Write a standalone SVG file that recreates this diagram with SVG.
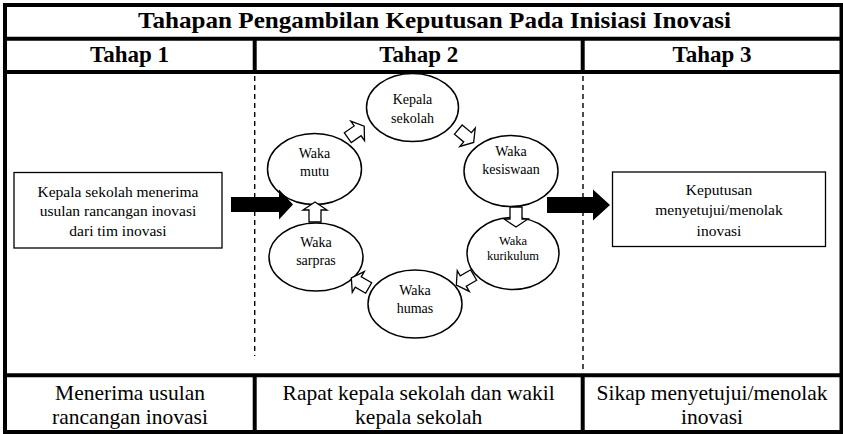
<svg xmlns="http://www.w3.org/2000/svg" width="843" height="434" viewBox="0 0 843 434">
  <style>
    .frame { fill: none; stroke: #000; stroke-width: 4; }
    .rule { stroke: #000; stroke-width: 4; }
    .dash { stroke: #000; stroke-width: 1.4; stroke-dasharray: 5 4; }
    .box { fill: #fff; stroke: #000; stroke-width: 1.3; }
    .oval { fill: #fff; stroke: #000; stroke-width: 1.5; }
    .hollow { fill: #fff; stroke: #000; stroke-width: 1.3; stroke-linejoin: miter; }
    .solid { fill: #000; }
    text { font-family: "Liberation Serif", "Times New Roman", serif; fill: #000; text-anchor: middle; }
    .title { font-size: 24px; font-weight: bold; }
    .head { font-size: 23px; font-weight: bold; }
    .foot { font-size: 21.5px; }
    .boxt { font-size: 15.5px; }
    .ovt { font-size: 14px; }
    .ovs { font-size: 12.5px; }
  </style>
  <defs>
    <path id="blk" d="M-10,-6 L2,-6 L2,-12 L10,0 L2,12 L2,6 L-10,6 Z"/>
  </defs>
  <rect width="843" height="434" fill="#fff"/>

  <!-- table frame -->
  <g id="table">
    <rect class="frame" x="5" y="5" width="836.5" height="427"/>
    <line class="rule" x1="5" y1="38.7" x2="841.5" y2="38.7"/>
    <line class="rule" x1="5" y1="72" x2="841.5" y2="72"/>
    <line class="rule" x1="5" y1="375.3" x2="841.5" y2="375.3"/>
    <line class="rule" x1="254.7" y1="38.7" x2="254.7" y2="72"/>
    <line class="rule" x1="582.7" y1="38.7" x2="582.7" y2="72"/>
    <line class="rule" x1="254.7" y1="375.3" x2="254.7" y2="432"/>
    <line class="rule" x1="582.7" y1="375.3" x2="582.7" y2="432"/>
    <line class="dash" x1="254.7" y1="76" x2="254.7" y2="356"/>
    <line class="dash" x1="583" y1="76" x2="583" y2="372"/>
  </g>

  <!-- headings -->
  <g id="headings">
    <text class="title" x="434.5" y="28" textLength="593" lengthAdjust="spacingAndGlyphs">Tahapan Pengambilan Keputusan Pada Inisiasi Inovasi</text>
    <text class="head" x="129.5" y="62">Tahap 1</text>
    <text class="head" x="418.7" y="62">Tahap 2</text>
    <text class="head" x="712" y="62">Tahap 3</text>
  </g>

  <!-- stage 1 -->
  <g id="stage1-box">
    <rect class="box" x="14" y="172.5" width="208" height="75.5"/>
    <text class="boxt" x="118" y="196.5">Kepala sekolah menerima</text>
    <text class="boxt" x="118" y="216">usulan rancangan inovasi</text>
    <text class="boxt" x="118" y="235.5">dari tim inovasi</text>
  </g>

  <!-- stage 2 meeting cycle -->
  <g id="kepala-sekolah">
    <ellipse class="oval" cx="412.5" cy="107.5" rx="46" ry="34"/>
    <text class="ovt" x="412.5" y="104">Kepala</text>
    <text class="ovt" x="412.5" y="123">sekolah</text>
  </g>
  <g id="waka-mutu">
    <ellipse class="oval" cx="314.5" cy="169" rx="47" ry="35.5"/>
    <text class="ovt" x="314.5" y="157.5">Waka</text>
    <text class="ovt" x="314.5" y="176">mutu</text>
  </g>
  <g id="waka-kesiswaan">
    <ellipse class="oval" cx="511" cy="171" rx="47" ry="35.5"/>
    <text class="ovt" x="511" y="156">Waka</text>
    <text class="ovt" x="511" y="174">kesiswaan</text>
  </g>
  <g id="waka-kurikulum">
    <ellipse class="oval" cx="513" cy="253.5" rx="46" ry="36"/>
    <text class="ovs" x="513" y="245">Waka</text>
    <text class="ovs" x="513" y="260">kurikulum</text>
  </g>
  <g id="waka-humas">
    <ellipse class="oval" cx="415" cy="304" rx="47" ry="34"/>
    <text class="ovt" x="415" y="295">Waka</text>
    <text class="ovt" x="415" y="313">humas</text>
  </g>
  <g id="waka-sarpras">
    <ellipse class="oval" cx="316" cy="257" rx="47" ry="34"/>
    <text class="ovt" x="316" y="246.5">Waka</text>
    <text class="ovt" x="316" y="265">sarpras</text>
  </g>

  <!-- stage 3 -->
  <g id="stage3-box">
    <rect class="box" x="612.5" y="172" width="213" height="74.5"/>
    <text class="boxt" x="719" y="195">Keputusan</text>
    <text class="boxt" x="719" y="215">menyetujui/menolak</text>
    <text class="boxt" x="719" y="235.5">inovasi</text>
  </g>

  <!-- summary row -->
  <g id="summary">
    <text class="foot" x="130" y="400">Menerima usulan</text>
    <text class="foot" x="130" y="424">rancangan inovasi</text>
    <text class="foot" x="418.7" y="400">Rapat kepala sekolah dan wakil</text>
    <text class="foot" x="418.7" y="424">kepala sekolah</text>
    <text class="foot" x="712" y="400">Sikap menyetujui/menolak</text>
    <text class="foot" x="712" y="424">inovasi</text>
  </g>

  <!-- connectors -->
  <g id="connectors">
    <path class="solid" d="M231,197 L279,197 L279,189.5 L293,204.5 L279,219.5 L279,212 L231,212 Z"/>
    <path class="solid" d="M547,197 L593,197 L593,189.5 L610,205 L593,220.5 L593,213 L547,213 Z"/>
    <use href="#blk" class="hollow" transform="translate(356,132) rotate(-35)"/>
    <use href="#blk" class="hollow" transform="translate(466,136) rotate(40)"/>
    <use href="#blk" class="hollow" transform="translate(516,217) rotate(90)"/>
    <use href="#blk" class="hollow" transform="translate(465,280) rotate(150)"/>
    <use href="#blk" class="hollow" transform="translate(360,283) rotate(210)"/>
    <use href="#blk" class="hollow" transform="translate(315,212) rotate(-90)"/>
  </g>
</svg>
